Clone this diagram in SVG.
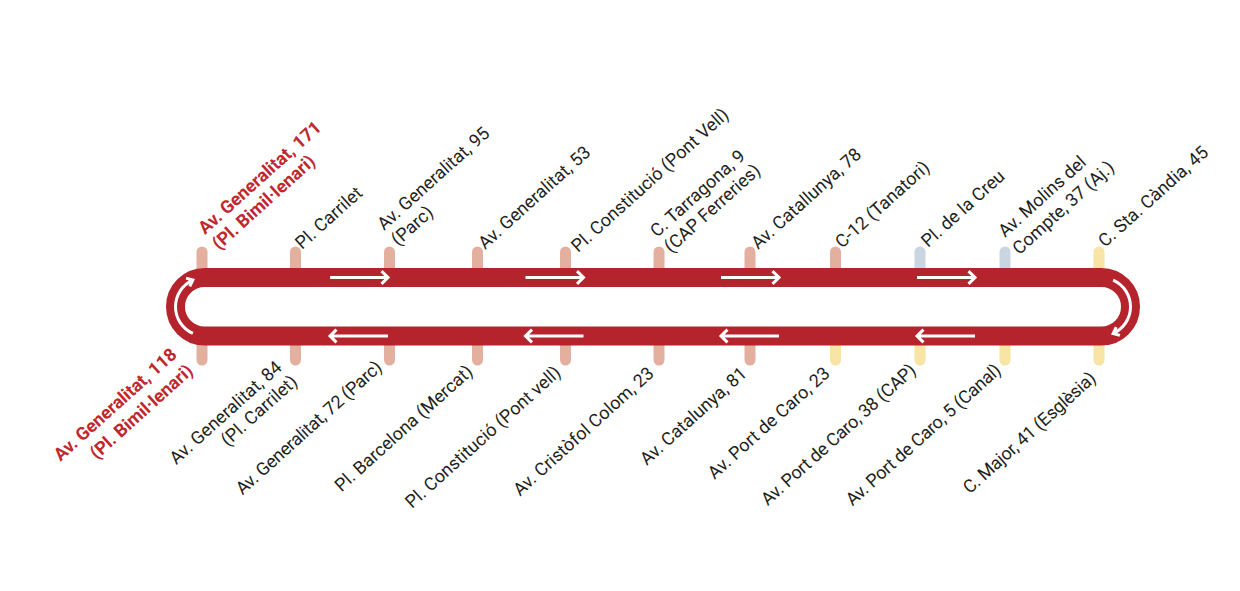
<svg xmlns="http://www.w3.org/2000/svg" width="1240" height="591" viewBox="0 0 1240 591">
<style>
.bg{fill:#ffffff}
.tk{stroke-width:11;stroke-linecap:round;fill:none}
.s{stroke:#e3b09f}
.b{stroke:#c9d6e1}
.y{stroke:#f8e4a4}
.loop{fill:none;stroke:#b5242d;stroke-width:19}
.ar{fill:none;stroke:#ffffff;stroke-width:3;stroke-linecap:butt;stroke-linejoin:miter}
.t{font-family:Roboto,"Liberation Sans",sans-serif;font-size:18px;fill:#231f20}
.r{font-weight:700;fill:#c1272d}
.e{text-anchor:end}
.n{letter-spacing:-0.3px}
</style>
<defs>
<path id="arR" d="M0,0 H58 M51.5,-6.3 L58,0 L51.5,6.3"/>
<path id="arL" d="M58,0 H0 M6.5,-6.3 L0,0 L6.5,6.3"/>
</defs>
<rect class="bg" x="0" y="0" width="1240" height="591"/>

<g id="stations-top">
<g id="st-t1"><line class="tk s" x1="202" y1="252" x2="202" y2="275"/>
<g transform="translate(205,235) rotate(-42)"><text class="t r" x="0" y="0">Av. Generalitat, 171</text><text class="t r" x="0" y="21">(Pl. Bimil·lenari)</text></g></g>
<g id="st-t2"><line class="tk s" x1="295.5" y1="252" x2="295.5" y2="275"/>
<g transform="translate(302,250) rotate(-42)"><text class="t">Pl. Carrilet</text></g></g>
<g id="st-t3"><line class="tk s" x1="389.5" y1="252" x2="389.5" y2="275"/>
<g transform="translate(384,231) rotate(-42)"><text class="t" x="0" y="0">Av. Generalitat, 95</text><text class="t" x="0" y="21">(Parc)</text></g></g>
<g id="st-t4"><line class="tk s" x1="477.5" y1="252" x2="477.5" y2="275"/>
<g transform="translate(485,250) rotate(-42)"><text class="t">Av. Generalitat, 53</text></g></g>
<g id="st-t5"><line class="tk s" x1="565.5" y1="252" x2="565.5" y2="275"/>
<g transform="translate(578,253) rotate(-42)"><text class="t">Pl. Constitució (Pont Vell)</text></g></g>
<g id="st-t6"><line class="tk s" x1="659" y1="252" x2="659" y2="275"/>
<g transform="translate(657,238) rotate(-42)"><text class="t" x="0" y="0">C. Tarragona, 9</text><text class="t" x="0" y="21">(CAP Ferreries)</text></g></g>
<g id="st-t7"><line class="tk s" x1="750" y1="252" x2="750" y2="275"/>
<g transform="translate(758,250) rotate(-42)"><text class="t">Av. Catallunya, 78</text></g></g>
<g id="st-t8"><line class="tk s" x1="835.5" y1="252" x2="835.5" y2="275"/>
<g transform="translate(842,249) rotate(-42)"><text class="t">C-12 (Tanatori)</text></g></g>
<g id="st-t9"><line class="tk b" x1="920" y1="252" x2="920" y2="275"/>
<g transform="translate(928,248) rotate(-42)"><text class="t">Pl. de la Creu</text></g></g>
<g id="st-t10"><line class="tk b" x1="1005" y1="252" x2="1005" y2="275"/>
<g transform="translate(1005,238) rotate(-42)"><text class="t" x="0" y="0">Av. Molins del</text><text class="t" x="-1" y="22.5">Compte, 37 (Aj.)</text></g></g>
<g id="st-t11"><line class="tk y" x1="1099" y1="252" x2="1099" y2="275"/>
<g transform="translate(1105,248) rotate(-42)"><text class="t">C. Sta. Càndia, 45</text></g></g>
</g>

<g id="stations-bottom">
<g id="st-b1"><line class="tk s" x1="202" y1="340" x2="202" y2="360"/>
<g transform="translate(178,356) rotate(-42)"><text class="t r e" x="0" y="0">Av. Generalitat, 118</text><text class="t r e" x="1" y="23">(Pl. Bimil·lenari)</text></g></g>
<g id="st-b2"><line class="tk s" x1="295.5" y1="340" x2="295.5" y2="360"/>
<g transform="translate(283,369) rotate(-42)"><text class="t e" x="0" y="0">Av. Generalitat, 84</text><text class="t e" x="2" y="21">(Pl. Carrilet)</text></g></g>
<g id="st-b3"><line class="tk s" x1="389.5" y1="340" x2="389.5" y2="360"/>
<g transform="translate(383,369) rotate(-42)"><text class="t e n">Av. Generalitat, 72 (Parc)</text></g></g>
<g id="st-b4"><line class="tk s" x1="477.5" y1="340" x2="477.5" y2="360"/>
<g transform="translate(474,373) rotate(-42)"><text class="t e">Pl. Barcelona (Mercat)</text></g></g>
<g id="st-b5"><line class="tk s" x1="565.5" y1="340" x2="565.5" y2="360"/>
<g transform="translate(562,374) rotate(-42)"><text class="t e">Pl. Constitució (Pont vell)</text></g></g>
<g id="st-b6"><line class="tk s" x1="659" y1="340" x2="659" y2="360"/>
<g transform="translate(655,375) rotate(-42)"><text class="t e">Av. Cristòfol Colom, 23</text></g></g>
<g id="st-b7"><line class="tk s" x1="750" y1="340" x2="750" y2="360"/>
<g transform="translate(748,375) rotate(-42)"><text class="t e">Av. Catalunya, 81</text></g></g>
<g id="st-b8"><line class="tk y" x1="835.5" y1="340" x2="835.5" y2="360"/>
<g transform="translate(831,375) rotate(-42)"><text class="t e">Av. Port de Caro, 23</text></g></g>
<g id="st-b9"><line class="tk y" x1="920" y1="340" x2="920" y2="360"/>
<g transform="translate(917,372) rotate(-42)"><text class="t e n">Av. Port de Caro, 38 (CAP)</text></g></g>
<g id="st-b10"><line class="tk y" x1="1005" y1="340" x2="1005" y2="360"/>
<g transform="translate(1002,372) rotate(-42)"><text class="t e n">Av. Port de Caro, 5 (Canal)</text></g></g>
<g id="st-b11"><line class="tk y" x1="1099" y1="340" x2="1099" y2="360"/>
<g transform="translate(1097,380) rotate(-42)"><text class="t e n">C. Major, 41 (Esglèsia)</text></g></g>
</g>

<g id="connectors">
<rect class="loop" x="175.5" y="277.5" width="955" height="58.5" rx="29.25" ry="29.25"/>
<use href="#arR" class="ar" transform="translate(330,277.5)"/>
<use href="#arR" class="ar" transform="translate(525.5,277.5)"/>
<use href="#arR" class="ar" transform="translate(721,277.5)"/>
<use href="#arR" class="ar" transform="translate(917,277.5)"/>
<use href="#arL" class="ar" transform="translate(330,336)"/>
<use href="#arL" class="ar" transform="translate(525.5,336)"/>
<use href="#arL" class="ar" transform="translate(721,336)"/>
<use href="#arL" class="ar" transform="translate(917,336)"/>
<path class="ar" d="M192.85,333.47 A29.25,29.25 0 0 1 192.85,280.03 M186.1,278.1 L192.85,280.03 L189.8,286.3"/>
<path class="ar" d="M1113.15,280.03 A29.25,29.25 0 0 1 1113.15,333.47 M1116.2,327.2 L1113.15,333.47 L1119.9,335.4"/>
</g>
</svg>
